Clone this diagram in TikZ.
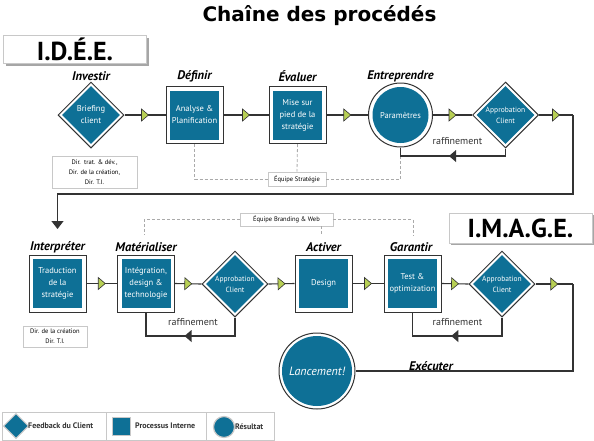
\documentclass[tikz,border=0pt]{standalone}
\usepackage{fontspec}
\setmainfont{PT Sans}
\newfontfamily\titlefont{DejaVu Sans}
\usetikzlibrary{shapes.geometric,arrows.meta,decorations.markings,calc}
\definecolor{teal1}{RGB}{14,112,150}
\definecolor{grn}{RGB}{184,208,84}
\definecolor{ln}{RGB}{51,51,51}
\definecolor{dash1}{RGB}{170,170,170}
\definecolor{lgray}{RGB}{200,200,200}
\tikzset{
  conn/.style={draw=ln, line width=1.1pt},
  gtri/.style={postaction={decorate,decoration={markings,mark=at position 0.5 with {\draw[ln,fill=grn,line width=0.6pt] (-3.5,-6)--(3.5,0)--(-3.5,6)--cycle;}}}},
  btri/.style={postaction={decorate,decoration={markings,mark=at position 0.5 with {\fill[ln] (-3.5,-6)--(3.5,0)--(-3.5,6)--cycle;}}}},
  dashln/.style={draw=dash1, line width=0.8pt, dash pattern=on 3pt off 2pt},
  outerbox/.style={draw=ln, line width=1pt, fill=white, minimum width=57pt, minimum height=57pt, inner sep=0pt},
  innerbox/.style={fill=teal1, minimum width=49pt, minimum height=49pt, inner sep=0pt},
  outerdia/.style={diamond, draw=ln, line width=1pt, fill=white, minimum width=66pt, minimum height=66pt, inner sep=0pt},
  innerdia/.style={diamond, fill=teal1, minimum width=58pt, minimum height=58pt, inner sep=0pt},
  outercirc/.style={circle, draw=ln, line width=1pt, fill=white, minimum size=64pt, inner sep=0pt},
  innercirc/.style={circle, fill=teal1, minimum size=56pt, inner sep=0pt},
  ntext/.style={text=white, align=center, font=\fontsize{8.5}{12}\selectfont, inner sep=0pt},
  dtext/.style={text=white, align=center, font=\fontsize{7.5}{11}\selectfont, inner sep=0pt},
  steplabel/.style={font=\fontsize{12.5}{14}\selectfont\bfseries\itshape, text=black, inner sep=0pt},
  rafflabel/.style={font=\fontsize{10}{12}\selectfont, text=ln, inner sep=0pt},
  smallbox/.style={draw=lgray, line width=0.6pt, fill=white, align=center, font=\fontsize{6.5}{10}\selectfont, inner sep=0pt},
  bigtitle/.style={draw=lgray, line width=0.8pt, fill=white, font=\fontsize{26}{28}\selectfont\bfseries, inner sep=0pt},
  legtext/.style={font=\fontsize{8}{10}\selectfont\bfseries, text=ln, anchor=west, inner sep=0pt},
}
\begin{document}
\begin{tikzpicture}[x=1pt,y=-1pt]
\useasboundingbox (0,0) rectangle (594,440);

% Title
\node[font=\titlefont\fontsize{20}{22}\selectfont\bfseries, anchor=base, inner sep=0pt] (title) at (319.5,21.5) {Chaîne des procédés};

% I.D.E.E. box
\fill[black!35] (6,38) rectangle (149,66);
\node[bigtitle, minimum width=143pt, minimum height=28pt] (idee) at (75,49.5) {I.D.É.E.};
% I.M.A.G.E. box
\fill[black!35] (451,215) rectangle (594,245);
\node[bigtitle, minimum width=143pt, minimum height=30pt] (image) at (520.5,228) {I.M.A.G.E.};

% ---- Row 1 ----
\node[outerdia] (brief) at (91,115) {};
\node[innerdia] at (brief) {};
\node[ntext] at (brief) {Briefing\\client};

\node[outerbox] (def) at (194.5,115) {};
\node[innerbox] at (def) {};
\node[ntext] at (def) {Analyse \&\\Planification};

\node[outerbox] (eval) at (297.5,115) {};
\node[innerbox] at (eval) {};
\node[ntext] at (eval) {Mise sur\\pied de la\\stratégie};

\node[outercirc] (param) at (400.5,115) {};
\node[innercirc] at (param) {};
\node[ntext] at (param) {Paramètres};

\node[outerdia] (ac1) at (505.5,115) {};
\node[innerdia] at (ac1) {};
\node[dtext] at (ac1) {Approbation\\Client};

\node[steplabel] (l1) at (91,76) {Investir};
\node[steplabel] (l2) at (194.5,76) {Définir};
\node[steplabel] (l3) at (297.5,76) {Évaluer};
\node[steplabel] (l4) at (400.5,76) {Entreprendre};

\node[smallbox, minimum width=85pt, minimum height=32pt] (dir1) at (94.5,172) {Dir.\ \ trat. \& dév.,\\Dir. de la création,\\Dir. T.I.};
\node[smallbox, minimum width=58pt, minimum height=14pt] (strat) at (297,179) {Équipe Stratégie};

% ---- Row 2 ----
\node[outerbox] (interp) at (57.5,283.5) {};
\node[innerbox] at (interp) {};
\node[ntext] at (interp) {Traduction\\de la\\stratégie};

\node[outerbox] (mat) at (146,283.5) {};
\node[innerbox] at (mat) {};
\node[ntext] at (mat) {Intégration,\\design \&\\technologie};

\node[outerdia] (ac2) at (235,284) {};
\node[innerdia] at (ac2) {};
\node[dtext] at (ac2) {Approbation\\Client};

\node[outerbox] (act) at (323.5,283.5) {};
\node[innerbox] at (act) {};
\node[ntext] at (act) {Design};

\node[outerbox] (gar) at (412.5,283.5) {};
\node[innerbox] at (gar) {};
\node[ntext] at (gar) {Test \&\\optimization};

\node[outerdia] (ac3) at (502,284) {};
\node[innerdia] at (ac3) {};
\node[dtext] at (ac3) {Approbation\\Client};

\node[outercirc, minimum size=76pt] (lanc) at (317,371) {};
\node[innercirc, minimum size=70pt] at (lanc) {};
\node[text=white, font=\fontsize{12}{14}\selectfont\itshape, inner sep=0pt] at (lanc) {Lancement!};

\node[steplabel] (l5) at (57.5,247) {Interpréter};
\node[steplabel] (l6) at (146,247) {Matérialiser};
\node[steplabel] (l7) at (323.5,247) {Activer};
\node[steplabel] (l8) at (411,247) {Garantir};
\node[steplabel] (l9) at (431,366) {Exécuter};

\node[smallbox, minimum width=64pt, minimum height=21pt] (dir2) at (55,336.5) {Dir. de la création\\Dir. T.I.};
\node[smallbox, minimum width=93pt, minimum height=13pt] (brand) at (286.5,219.5) {Équipe Branding \& Web};

% ---- coordinates ----
\coordinate (c1) at (573,115);
\coordinate (c2) at (573,194);
\coordinate (c3) at (57.5,194);
\coordinate (c4) at (57.5,229);
\coordinate (c5) at (573,284);
\coordinate (c6) at (573,371);
\coordinate (r1) at (400.5,156);
\coordinate (r2) at (146,336);
\coordinate (r3) at (412.5,336);
\coordinate (d1) at (194.5,179);
\coordinate (d2) at (144,219.5);
\coordinate (d3) at (144,235);
\coordinate (d4) at (321,235);
\coordinate (d5) at (413,219.5);
\coordinate (d6) at (413,235);

% ---- dashed team lines ----
\draw[dashln] (def.south) -- (d1) -- (strat.west);
\draw[dashln] (eval.south) -- (strat.north);
\draw[dashln] (r1) |- (strat.east);
\draw[dashln] (brand.west) -- (d2) -- (d3);
\draw[dashln] (brand.east) -- (d5) -- (d6);
\draw[dashln] (brand.south -| d4) -- (d4);

% ---- connectors row 1 ----
\draw[conn,gtri] (brief.east) -- (def.west);
\draw[conn,gtri] (def.east) -- (eval.west);
\draw[conn,gtri] (eval.east) -- (param.west);
\draw[conn,gtri] (param.east) -- (ac1.west);
\draw[conn,gtri] (ac1.east) -- (c1);
\draw[conn,-{Triangle[width=12pt,length=8pt]}] (c1) -- (c2) -- (c3) -- (c4);
\draw[conn,btri] (ac1.south) |- (r1) -- (param.south);

% ---- connectors row 2 ----
\draw[conn,gtri] (interp.east) -- (mat.west);
\draw[conn,gtri] (mat.east) -- (ac2.west);
\draw[conn,gtri] (ac2.east) -- (act.west);
\draw[conn,gtri] (act.east) -- (gar.west);
\draw[conn,gtri] (gar.east) -- (ac3.west);
\draw[conn,gtri] (ac3.east) -- (c5);
\draw[conn] (c5) -- (c6) -- (lanc.east);
\draw[conn,btri] (ac2.south) |- (r2) -- (mat.south);
\draw[conn,btri] (ac3.south) |- (r3) -- (gar.south);

\node[rafflabel] (rf1) at (457.5,141) {raffinement};
\node[rafflabel] (rf2) at (193,322) {raffinement};
\node[rafflabel] (rf3) at (457.5,322) {raffinement};

% ---- legend ----
\draw[lgray, line width=0.8pt, fill=white] (2,412) rectangle (274,440);
\draw[lgray, line width=0.8pt] (106,412) -- (106,440);
\draw[lgray, line width=0.8pt] (206,412) -- (206,440);
\node[diamond, fill=teal1, draw=lgray, line width=1pt, minimum width=25pt, minimum height=25pt, inner sep=0pt] (lg1) at (16,426) {};
\node[legtext] at (28,426) {Feedback du Client};
\node[fill=teal1, draw=lgray, line width=1pt, minimum size=18pt, inner sep=0pt] (lg2) at (121.5,426.5) {};
\node[legtext] at (135,426) {Processus Interne};
\node[circle, fill=teal1, draw=lgray, line width=1.2pt, minimum size=21pt, inner sep=0pt] (lg3) at (224,427) {};
\node[legtext] at (235,427) {Résultat};
\end{tikzpicture}
\end{document}
